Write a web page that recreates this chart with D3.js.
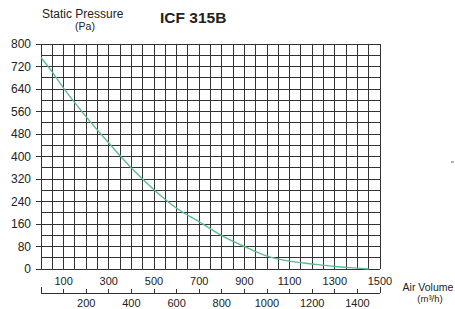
<!DOCTYPE html>
<html>
<head>
<meta charset="utf-8">
<script src="https://cdn.jsdelivr.net/npm/d3@7"></script>
<style>
  body { margin: 0; background: #fff; }
  svg { display: block; font-family: Arial, "Liberation Sans", sans-serif; }
</style>
</head>
<body>
<div id="chart"></div>
<script>
// Curve: air volume (m3/h) vs static pressure (Pa)
const airVolume = [0, 50, 100, 200, 300, 400, 500, 600, 700, 800, 900, 1000, 1100, 1200, 1300, 1400, 1450];
const pressure  = [752, 700, 643, 541, 448, 359, 282, 216, 168, 119, 80, 46, 28, 18, 9, 3, 0];
const yTicks = [0, 80, 160, 240, 320, 400, 480, 560, 640, 720, 800];
const xTicks = [0, 100, 200, 300, 400, 500, 600, 700, 800, 900, 1000, 1100, 1200, 1300, 1400, 1500];

const W = 455, H = 309;
const svg = d3.select("#chart").append("svg")
    .attr("width", W)
    .attr("height", H);

const x = d3.scaleLinear().domain([0, 1500]).range([41, 380]);
const y = d3.scaleLinear().domain([0, 800]).range([269, 44]);

// grid: every 50 across, every 40 up
const grid = svg.append("g")
    .attr("stroke", "#333")
    .attr("stroke-width", 1)
    .attr("shape-rendering", "crispEdges");

grid.selectAll(".v")
  .data(d3.range(0, 1501, 50))
  .enter().append("line")
    .attr("x1", d => x(d)).attr("x2", d => x(d))
    .attr("y1", y(800)).attr("y2", y(0));

grid.selectAll(".h")
  .data(d3.range(0, 801, 40))
  .enter().append("line")
    .attr("x1", d => yTicks.includes(d) ? x(0) - 5 : x(0))
    .attr("x2", x(1500))
    .attr("y1", d => y(d)).attr("y2", d => y(d));

// y labels
svg.append("g").selectAll("text")
  .data(yTicks)
  .enter().append("text")
    .attr("x", 31)
    .attr("y", d => y(d))
    .attr("dy", "0.35em")
    .attr("text-anchor", "end")
    .style("font-size", "12px")
    .attr("fill", "#222")
    .text(d => d);

// bottom axis, separate from the grid
const axisY = 293;
const ax = svg.append("g")
    .attr("stroke", "#333")
    .attr("stroke-width", 1)
    .attr("shape-rendering", "crispEdges");
ax.append("line")
    .attr("x1", x(0)).attr("x2", x(1500))
    .attr("y1", axisY).attr("y2", axisY);
ax.selectAll(".t")
  .data(xTicks)
  .enter().append("line")
    .attr("x1", d => x(d)).attr("x2", d => x(d))
    .attr("y1", d => (d === 0 || d === 1500) ? axisY - 6 : axisY - 4)
    .attr("y2", axisY);

svg.append("g").selectAll("text")
  .data(xTicks.filter(d => d > 0))
  .enter().append("text")
    .attr("x", d => x(d))
    .attr("y", d => (d / 100) % 2 === 1 ? 285 : 307)
    .attr("text-anchor", "middle")
    .style("font-size", "11px")
    .attr("fill", "#222")
    .text(d => d);

// curve
const line = d3.line()
    .x((d, i) => x(airVolume[i]))
    .y(d => y(d))
    .curve(d3.curveMonotoneX);

svg.append("path")
    .datum(pressure)
    .attr("fill", "none")
    .attr("stroke", "#5dbb8e")
    .attr("stroke-width", 1.4)
    .attr("d", line);

// titles
svg.append("text")
    .attr("x", 42).attr("y", 18)
    .style("font-size", "12px")
    .attr("fill", "#222")
    .text("Static Pressure");
svg.append("text")
    .attr("x", 85).attr("y", 30)
    .attr("text-anchor", "middle")
    .style("font-size", "10.5px")
    .attr("fill", "#222")
    .text("(Pa)");
svg.append("text")
    .attr("x", 160).attr("y", 23)
    .style("font-size", "15.5px")
    .style("font-weight", "bold")
    .attr("fill", "#222")
    .text("ICF 315B");

// x axis title
svg.append("text")
    .attr("x", 428).attr("y", 291)
    .attr("text-anchor", "middle")
    .style("font-size", "10.5px")
    .attr("fill", "#222")
    .text("Air Volume");
svg.append("text")
    .attr("x", 430).attr("y", 302)
    .attr("text-anchor", "middle")
    .style("font-size", "9.5px")
    .attr("fill", "#222")
    .text("(m³/h)");

// stray dash at right edge of the original
svg.append("line")
    .attr("x1", 451).attr("x2", 454)
    .attr("y1", 162).attr("y2", 162)
    .attr("stroke", "#666");
</script>
</body>
</html>
